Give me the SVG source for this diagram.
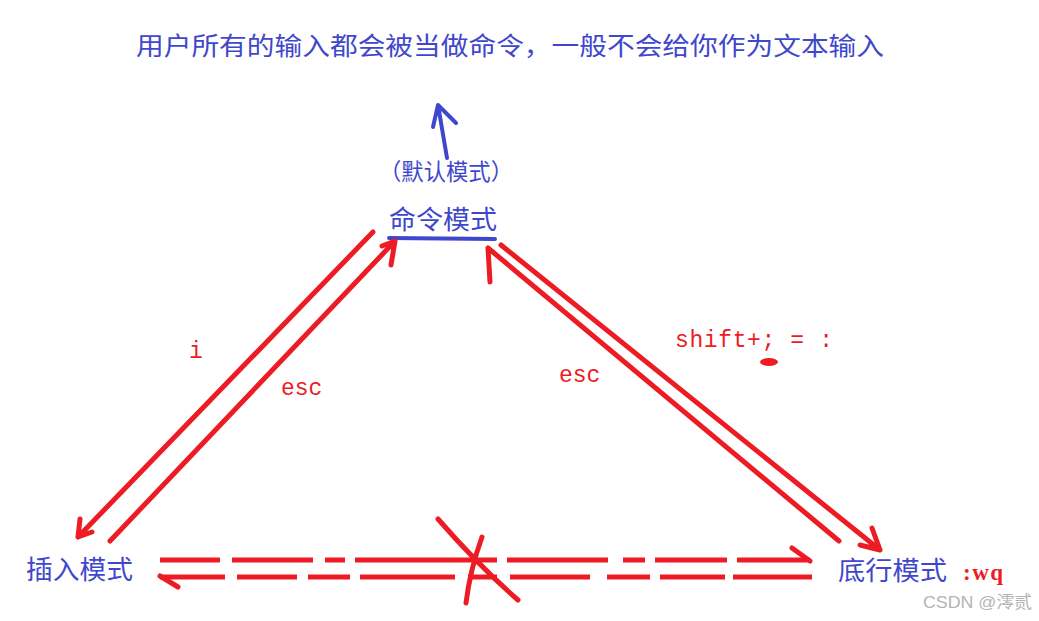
<svg xmlns="http://www.w3.org/2000/svg" width="1039" height="621" viewBox="0 0 1039 621">
<style>
.cn{font-family:"Noto Sans CJK SC","Noto Sans",sans-serif;fill:#3f48cc}
.lbl{font-family:"Liberation Mono","DejaVu Sans Mono",monospace;fill:#ed1c24}
.red{stroke:#ed1c24;stroke-width:5;fill:none;stroke-linecap:round;stroke-linejoin:round}
.dash{stroke:#ed1c24;stroke-width:5;fill:none;stroke-linecap:butt}
.blue{stroke:#3f48cc;stroke-width:4;fill:none;stroke-linecap:round;stroke-linejoin:round}
</style>
<rect width="1039" height="621" fill="#ffffff"/>
<g id="title"><text class="cn" x="136" y="55" font-size="25" textLength="748" lengthAdjust="spacingAndGlyphs">用户所有的输入都会被当做命令，一般不会给你作为文本输入</text></g>
<g id="default-label"><text class="cn" x="379" y="180" font-size="23" textLength="134" lengthAdjust="spacingAndGlyphs">（默认模式）</text></g>
<g id="command-mode"><text class="cn" x="389" y="229" font-size="26" textLength="108" lengthAdjust="spacingAndGlyphs">命令模式</text>
<path class="blue" d="M389 238 L495 239"/></g>
<g id="insert-mode"><text class="cn" x="26" y="579" font-size="26" textLength="107" lengthAdjust="spacingAndGlyphs">插入模式</text></g>
<g id="last-line-mode"><text class="cn" x="838" y="580" font-size="26" textLength="109" lengthAdjust="spacingAndGlyphs">底行模式</text>
<text x="963" y="580" font-size="23" font-weight="bold" font-family="Liberation Serif,serif" fill="#ed1c24" textLength="40" lengthAdjust="spacing">:wq</text></g>
<g id="connectors">
<path class="blue" d="M447 158 L438 105 M433 127 L438 105 L456 123"/>
<path class="red" d="M373 232 L78 537 M80 519 L78 537 L92 532"/>
<path class="red" d="M110 541 L395 241 M391 265 L395 241 L382 246"/>
<path class="red" d="M839 541 L488 248 M490 282 L488 248"/>
<path class="red" d="M501 245 L880 550 M872 528 L880 550 L860 545"/>
<g>
<path class="dash" d="M160 560H220 M232 560H313 M325 560H345 M355 560H497 M507 560H608 M623 560H645 M655 560H727 M737 560H810"/>
<path class="red" d="M792 548 L810 561"/>
<path class="dash" d="M160 577H225 M237 577H297 M308 577H350 M360 577H455 M468 577H497 M510 577H590 M607 577H650 M660 577H725 M733 577H812"/>
<path class="red" d="M160 576 L178 587"/>
</g>
<path class="red" stroke-width="4" d="M438 519 Q478 565 518 600 M482 537 Q470 570 466 603"/>
</g>
<g id="labels">
<text class="lbl" x="189" y="358" font-size="23">i</text>
<text class="lbl" x="281" y="395" font-size="23">esc</text>
<text class="lbl" x="559" y="382" font-size="23">esc</text>
<text class="lbl" x="675" y="347" font-size="23" textLength="158" lengthAdjust="spacing">shift+; = :</text>
<ellipse cx="769" cy="362" rx="9" ry="4" fill="#ed1c24"/>
</g>
<text x="923" y="608" font-size="17" font-family="Liberation Sans,Noto Sans CJK SC,sans-serif" fill="#b4b4b4" textLength="109" lengthAdjust="spacingAndGlyphs">CSDN @澪贰</text>
</svg>
